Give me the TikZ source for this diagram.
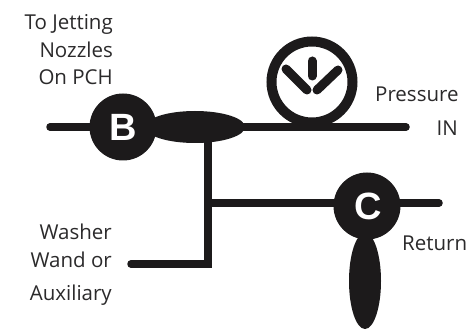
\documentclass[tikz,border=0pt]{standalone}
\usepackage{fontspec}
\setmainfont{Open Sans}
\newfontfamily\badgefont{Liberation Sans}
\usetikzlibrary{shapes.geometric}
\definecolor{ink}{HTML}{1C1A1B}
\definecolor{lbl}{HTML}{2B2A2B}
\tikzset{
  pipe/.style={draw=ink,line width=7.5pt,line cap=round},
  badge/.style={circle,fill=ink,draw=none,minimum size=67pt,inner sep=0pt,text=white,font=\badgefont\bfseries\fontsize{38}{38}\selectfont},
  valve/.style={ellipse,fill=ink,draw=none,inner sep=0pt},
  lab/.style={text=lbl,font=\fontsize{20.5}{20.5}\selectfont,inner sep=0pt,anchor=base east},
  labl/.style={text=lbl,font=\fontsize{20.5}{20.5}\selectfont,inner sep=0pt,anchor=base west},
  tick/.style={draw=ink,line width=9pt,line cap=round}
}
\begin{document}
\begin{tikzpicture}[x=1pt,y=-1pt]
\useasboundingbox[fill=white] (0,0) rectangle (474,331);
\coordinate (wl) at (50,127);
\coordinate (wr) at (406,127);
\coordinate (t1) at (208,127);
\coordinate (t2) at (208,203);
\coordinate (el) at (208,264);
\coordinate (ee) at (131,264);
\coordinate (rr) at (439,203);
\node[circle,draw=ink,line width=10pt,fill=white,minimum size=81pt,inner sep=0pt] (p) at (312,82) {};
\draw[pipe] (wl) -- (wr);
\draw[pipe] (t1) -- (t2) -- (el) -- (ee);
\draw[pipe] (t2) -- (rr);
\node[valve,minimum width=100pt,minimum height=32pt] (vb) at (195,127) {};
\node[valve,minimum width=32pt,minimum height=96pt] (vc) at (365,281) {};
\node[badge] (b) at (123,127) {\raisebox{-1pt}{B}};
\node[badge] (c) at (367,206) {\hspace{2pt}C};
\draw[tick] (286,69) -- (307,90);
\draw[tick] (338,70) -- (317,90);
\draw[tick] (312,61) -- (312,76);
\node[lab] (l1) at (113,30) {To Jetting};
\node[lab] (l2) at (113,58) {Nozzles};
\node[lab] (l3) at (113,85) {On PCH};
\node[labl] (l4) at (375,102) {Pressure};
\node[lab] (l5) at (458,136) {IN};
\node[labl] (l6) at (402,251) {Return};
\node[lab] (l7) at (112,240) {Washer};
\node[lab] (l8) at (112,268) {Wand or};
\node[lab] (l9) at (112,300) {Auxiliary};
\end{tikzpicture}
\end{document}
